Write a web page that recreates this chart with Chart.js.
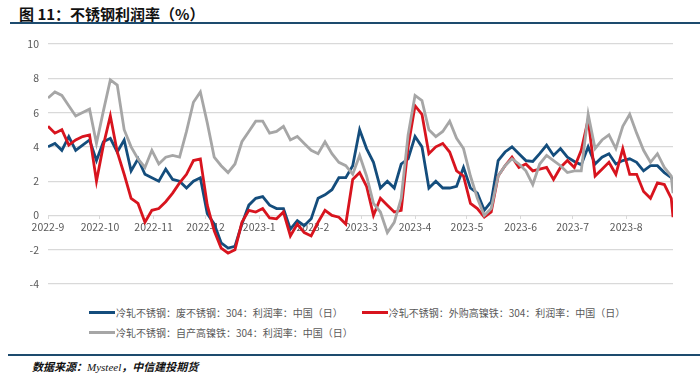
<!DOCTYPE html>
<html>
<head>
<meta charset="utf-8">
<script src="https://cdn.jsdelivr.net/npm/chart.js@4.4.0/dist/chart.umd.min.js"></script>
<style>
  html, body { margin: 0; padding: 0; background: #fff; }
  body { width: 700px; height: 379px; position: relative; overflow: hidden; font-family: "Noto Sans CJK SC", sans-serif; }
  #title { position: absolute; left: 19px; top: 3px; font-size: 15px; font-weight: 700; color: #111; white-space: nowrap; }
  #titleLine { position: absolute; left: 10px; top: 22px; width: 690px; height: 2px; background: #1d4b6e; }
  #wrap { position: absolute; left: 0; top: 0; width: 700px; height: 300px; }
  #legend { position: absolute; left: 89px; top: 302px; font-size: 10px; color: #595959; }
  .row { display: flex; align-items: center; height: 20px; white-space: nowrap; }
  .item { display: flex; align-items: center; }
  .sw { width: 26px; height: 3px; margin-right: 1px; }
  #footLine { position: absolute; left: 8px; top: 354px; width: 692px; height: 2px; background: #1d4b6e; }
  #source { position: absolute; left: 32px; top: 358px; font-size: 11px; font-weight: 700; font-style: italic; color: #111; white-space: nowrap; }
  #source .en { font-family: "Liberation Serif", serif; font-weight: 400; }
</style>
</head>
<body>
<div id="title">图 11：不锈钢利润率（%）</div>
<div id="titleLine"></div>
<div id="wrap"><canvas id="c" width="700" height="300"></canvas></div>
<div id="legend"></div>
<div id="footLine"></div>
<div id="source">数据来源：<span class="en">Mysteel</span>，中信建投期货</div>
<script>
// ---- data ----
const dates = [
  "2022-09-01","2022-09-05","2022-09-09","2022-09-13","2022-09-17","2022-09-21","2022-09-25","2022-09-29",
  "2022-10-03","2022-10-07","2022-10-11","2022-10-15","2022-10-19","2022-10-23","2022-10-27","2022-10-31",
  "2022-11-04","2022-11-08","2022-11-12","2022-11-16","2022-11-20","2022-11-24","2022-11-28",
  "2022-12-02","2022-12-06","2022-12-10","2022-12-14","2022-12-18","2022-12-22","2022-12-26","2022-12-30",
  "2023-01-03","2023-01-07","2023-01-11","2023-01-15","2023-01-19","2023-01-23","2023-01-27","2023-01-31",
  "2023-02-04","2023-02-08","2023-02-12","2023-02-16","2023-02-20","2023-02-24","2023-02-28",
  "2023-03-04","2023-03-08","2023-03-12","2023-03-16","2023-03-20","2023-03-24","2023-03-28",
  "2023-04-01","2023-04-05","2023-04-09","2023-04-13","2023-04-17","2023-04-21","2023-04-25","2023-04-29",
  "2023-05-03","2023-05-07","2023-05-11","2023-05-15","2023-05-19","2023-05-23","2023-05-27","2023-05-31",
  "2023-06-04","2023-06-08","2023-06-12","2023-06-16","2023-06-20","2023-06-24","2023-06-28",
  "2023-07-02","2023-07-06","2023-07-10","2023-07-14","2023-07-18","2023-07-22","2023-07-26","2023-07-30",
  "2023-08-03","2023-08-07","2023-08-11","2023-08-15","2023-08-19","2023-08-23","2023-08-27","2023-08-28"
];
const scrapProfit = [
  4.0,4.2,3.8,4.6,3.8,4.1,4.4,3.2,4.3,4.5,3.7,4.4,2.6,3.3,2.4,2.2,2.0,2.7,2.1,2.0,1.6,2.0,2.2,
  0.1,-0.5,-1.6,-1.9,-1.8,-0.5,0.6,1.0,1.1,0.6,0.4,0.4,-0.8,-0.3,-0.6,-0.2,1.0,1.2,1.5,2.2,2.2,2.9,5.0,
  3.9,3.1,1.6,2.0,1.6,3.0,3.3,4.6,4.0,1.6,2.0,1.6,1.6,1.7,2.8,1.6,1.3,0.3,0.8,3.2,3.7,4.0,3.6,
  3.2,3.15,3.6,4.1,3.5,3.9,3.4,3.15,2.95,4.0,3.0,3.4,3.6,3.0,3.2,3.3,3.1,2.6,2.9,2.9,2.5,2.2,2.0
];
const boughtNpiProfit = [
  5.2,4.8,5.0,4.1,4.4,4.6,4.7,2.0,4.1,5.8,3.7,2.4,1.0,0.7,-0.4,0.3,0.4,0.8,1.3,1.9,2.4,3.2,3.3,
  0.6,-0.9,-1.9,-2.2,-2.0,-0.4,0.3,0.2,0.4,-0.15,-0.2,0.2,-1.2,-0.5,-1.0,-1.2,-0.4,0.3,0.0,-0.1,-0.5,2.1,2.5,
  1.7,0.0,1.0,0.6,0.2,0.3,4.0,6.4,5.9,3.6,4.0,4.2,3.7,2.6,2.3,0.7,0.4,-0.1,0.2,2.3,2.9,3.4,2.8,
  3.0,2.6,2.7,2.8,2.1,2.8,3.2,2.8,3.8,5.6,2.3,2.7,3.1,2.4,3.9,2.4,2.4,1.4,1.0,1.9,1.8,1.0,-0.1
];
const ownNpiProfit = [
  6.85,7.2,7.0,6.4,5.8,6.0,6.2,4.2,6.1,7.9,7.6,5.0,4.0,3.3,2.8,3.8,3.0,3.4,3.5,3.4,4.9,6.6,7.2,
  5.4,3.4,2.9,2.5,3.0,4.3,4.9,5.5,5.5,4.8,4.9,5.2,4.4,4.6,4.2,3.8,3.6,4.3,3.6,3.1,2.9,2.4,3.5,
  2.3,0.7,0.2,-1.0,-0.4,1.0,4.7,7.0,6.7,5.0,4.6,4.9,5.5,4.5,3.9,2.3,1.0,0.0,0.4,2.3,2.9,3.3,3.0,
  2.6,1.8,3.0,3.5,3.2,2.9,2.5,2.6,2.6,5.9,3.9,4.4,4.7,3.9,5.2,5.9,4.8,3.8,3.1,3.6,2.8,2.3,1.3
];
const seriesNames = [
  "冷轧不锈钢：废不锈钢：304：利润率：中国（日）",
  "冷轧不锈钢：外购高镍铁：304：利润率：中国（日）",
  "冷轧不锈钢：自产高镍铁：304：利润率：中国（日）"
];
const monthStarts = ["2022-09-01","2022-10-01","2022-11-01","2022-12-01","2023-01-01","2023-02-01","2023-03-01","2023-04-01","2023-05-01","2023-06-01","2023-07-01","2023-08-01"];
const monthLabels = ["2022-9","2022-10","2022-11","2022-12","2023-1","2023-2","2023-3","2023-4","2023-5","2023-6","2023-7","2023-8"];
const yTicks = [-4,-2,0,2,4,6,8,10];

// ---- helpers ----
const DAY = 86400000;
const base = Date.UTC(2022, 8, 1);
function dayOf(s) { const p = s.split("-").map(Number); return Math.round((Date.UTC(p[0], p[1]-1, p[2]) - base) / DAY); }
const xs = dates.map(dayOf);
const tickDays = monthStarts.map(dayOf);
const colors = ["#144d7c", "#d8141e", "#a6a6a6"];
const series = [scrapProfit, boughtNpiProfit, ownNpiProfit];

function pts(arr) { return arr.map((v, i) => ({x: xs[i], y: v})); }

// legend
const legend = document.getElementById("legend");
const rows = [[0,1],[2]];
rows.forEach(r => {
  const row = document.createElement("div"); row.className = "row";
  r.forEach((si, k) => {
    const it = document.createElement("div"); it.className = "item";
    if (k > 0) it.style.marginLeft = "19px";
    const sw = document.createElement("span"); sw.className = "sw"; sw.style.background = colors[si];
    const tx = document.createElement("span"); tx.textContent = seriesNames[si];
    it.appendChild(sw); it.appendChild(tx); row.appendChild(it);
  });
  legend.appendChild(row);
});

const tickFont = { family: "'Noto Sans CJK SC', sans-serif", size: 10.5 };

new Chart(document.getElementById("c"), {
  type: "line",
  data: {
    datasets: series.map((s, i) => ({
      label: seriesNames[i],
      data: pts(s),
      borderColor: colors[i],
      backgroundColor: colors[i],
      borderWidth: 2.8,
      pointRadius: 0,
      tension: 0,
      order: 2 - i
    }))
  },
  options: {
    responsive: false,
    animation: false,
    layout: { padding: { top: 44, right: 27, left: 8, bottom: 16 } },
    plugins: { legend: { display: false }, tooltip: { enabled: false } },
    scales: {
      x: {
        type: "linear",
        position: { y: 0 },
        min: 0,
        max: xs[xs.length - 1],
        afterBuildTicks: (sc) => { sc.ticks = tickDays.map(v => ({ value: v })); },
        ticks: {
          autoSkip: false, maxRotation: 0, padding: 1, color: "#595959", font: tickFont,
          callback: (v, i) => monthLabels[i]
        },
        grid: { drawOnChartArea: false, drawTicks: true, tickLength: 4, color: "#d9d9d9" },
        border: { display: false }
      },
      y: {
        min: -4, max: 10,
        afterBuildTicks: (sc) => { sc.ticks = yTicks.map(v => ({ value: v })); },
        afterFit: (sc) => { sc.width = 40; },
        ticks: { padding: 9, color: "#595959", font: tickFont },
        grid: { color: "#d9d9d9", lineWidth: 1.2, drawTicks: false },
        border: { display: false }
      }
    }
  }
});
</script>
</body>
</html>
